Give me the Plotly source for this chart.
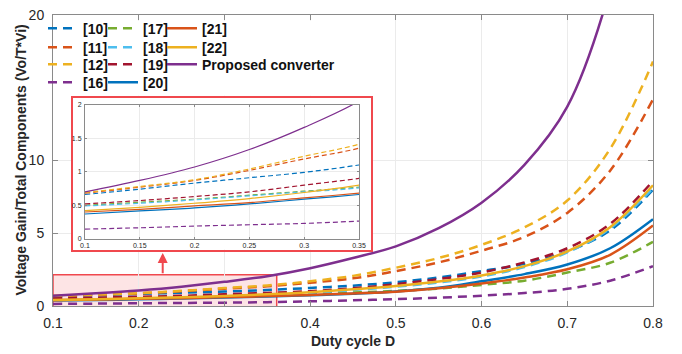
import plotly.graph_objects as go

# ---------------- data ----------------
D = [0.10, 0.15, 0.20, 0.25, 0.30, 0.35, 0.40, 0.45, 0.50, 0.55, 0.60, 0.65, 0.70, 0.75, 0.80]

ref10 = [0.66, 0.74, 0.83, 0.91, 0.99, 1.10, 1.24, 1.40, 1.63, 1.96, 2.40, 2.90, 3.75, 5.20, 8.00]
ref11 = [0.68, 0.77, 0.87, 1.02, 1.19, 1.35, 1.60, 1.90, 2.40, 3.00, 3.80, 4.75, 6.40, 9.30, 14.20]
ref12 = [0.69, 0.78, 0.88, 1.04, 1.23, 1.41, 1.70, 2.07, 2.63, 3.30, 4.20, 5.40, 7.25, 10.80, 16.80]
ref16 = [0.145, 0.165, 0.19, 0.21, 0.23, 0.265, 0.32, 0.39, 0.47, 0.57, 0.71, 0.89, 1.18, 1.74, 2.74]
ref17 = [0.50, 0.545, 0.59, 0.65, 0.71, 0.77, 0.85, 0.93, 1.04, 1.20, 1.45, 1.74, 2.30, 2.97, 4.41]
ref18 = [0.49, 0.53, 0.58, 0.64, 0.70, 0.76, 0.90, 1.10, 1.33, 1.62, 2.03, 2.68, 3.68, 5.33, 8.10]
ref19 = [0.52, 0.57, 0.63, 0.70, 0.80, 0.90, 1.02, 1.22, 1.50, 1.85, 2.30, 3.00, 3.97, 5.64, 8.60]
ref20 = [0.37, 0.415, 0.46, 0.52, 0.59, 0.66, 0.74, 0.85, 1.00, 1.25, 1.70, 2.19, 2.85, 3.97, 5.97]
ref21 = [0.40, 0.44, 0.49, 0.54, 0.61, 0.68, 0.76, 0.86, 0.98, 1.22, 1.55, 1.96, 2.52, 3.52, 5.53]
ref22 = [0.42, 0.47, 0.53, 0.60, 0.69, 0.80, 0.95, 1.15, 1.38, 1.68, 2.10, 2.74, 3.75, 5.42, 8.30]
proposed = [0.70, 0.87, 1.07, 1.33, 1.66, 2.05, 2.60, 3.30, 4.10, 5.35, 7.10, 9.70, 13.70, 21.80, 36.0]

names = ["[10]", "[11]", "[12]", "[16]", "[17]", "[18]", "[19]", "[20]", "[21]", "[22]", "Proposed converter"]
values = [ref10, ref11, ref12, ref16, ref17, ref18, ref19, ref20, ref21, ref22, proposed]
colors = ["#0072BD", "#D95319", "#EDB120", "#7E2F8E", "#77AC30", "#4DBEEE", "#A2142F",
          "#0072BD", "#D95319", "#EDB120", "#7E2F8E"]
styles = ["dash"] * 7 + ["solid"] * 4

x_ticks = [0.1, 0.2, 0.3, 0.4, 0.5, 0.6, 0.7, 0.8]
x_ticktext = ["0.1", "0.2", "0.3", "0.4", "0.5", "0.6", "0.7", "0.8"]
y_ticks = [0, 5, 10, 20]
y_ticktext = ["0", "5", "10", "20"]
ix_ticks = [0.1, 0.15, 0.2, 0.25, 0.3, 0.35]
ix_ticktext = ["0.1", "0.15", "0.2", "0.25", "0.3", "0.35"]
iy_ticks = [0, 0.5, 1, 1.5, 2]
iy_ticktext = ["0", "0.5", "1", "1.5", "2"]

FONT = "Arial, Liberation Sans, sans-serif"
RED = "#F0484E"
AX = "#8a8a8a"
GRID = "#ebebeb"

# legend layout: 3 columns (left px), 4 rows (anchor px)
leg_col_px = [43, 103, 162]
leg_row_px = [21, 40.5, 58, 76.5]
leg_cells = [(0, 0), (0, 1), (0, 2), (0, 3), (1, 0), (1, 1), (1, 2), (1, 3), (2, 0), (2, 1), (2, 2)]

fig = go.Figure()

# main traces, one legend per entry
for i, (n, v, c, s) in enumerate(zip(names, values, colors, styles)):
    lg = "legend" if i == 0 else "legend%d" % (i + 1)
    fig.add_trace(go.Scatter(
        x=D, y=v, mode="lines", name="<b>%s</b>" % n,
        line=dict(color=c, width=2.5, dash=("9px,6px" if s == "dash" else "solid"), shape="spline"),
        legend=lg, xaxis="x", yaxis="y", hoverinfo="skip"))

# empty frame subplot (white box with red border behind the inset)
fig.add_trace(go.Scatter(x=[None], y=[None], mode="lines", showlegend=False,
                         xaxis="x2", yaxis="y2", hoverinfo="skip"))

# inset traces
for n, v, c, s in zip(names, values, colors, styles):
    fig.add_trace(go.Scatter(
        x=D, y=v, mode="lines", showlegend=False,
        line=dict(color=c, width=1.2, dash=("5px,3px" if s == "dash" else "solid"), shape="spline"),
        xaxis="x3", yaxis="y3", hoverinfo="skip"))

axis_common = dict(showline=True, linecolor=AX, linewidth=1, mirror="ticks",
                   ticks="inside", tickcolor=AX, showgrid=True, gridcolor=GRID,
                   zeroline=False)
frame_axis = dict(showline=True, linecolor=RED, linewidth=2, mirror=True, ticks="",
                  showgrid=False, zeroline=False, showticklabels=False, range=[0, 1],
                  fixedrange=True)

fig.update_layout(
    width=682, height=354,
    margin=dict(l=53, r=29, t=7, b=48),
    paper_bgcolor="white", plot_bgcolor="white",
    font=dict(family=FONT, size=14, color="#262626"),
    xaxis=dict(domain=[0, 1], range=[0.1, 0.8], tickvals=x_ticks, ticktext=x_ticktext,
               ticklen=5, ticklabelstandoff=4,
               title=dict(text="<b>Duty cycle D</b>", standoff=6, font=dict(size=14, color="#262626")),
               **axis_common),
    yaxis=dict(domain=[0, 1], range=[0, 20], tickvals=y_ticks, ticktext=y_ticktext,
               ticklen=5, ticklabelstandoff=5, **axis_common),
    xaxis2=dict(domain=[0.0333, 0.53], anchor="y2", **frame_axis),
    yaxis2=dict(domain=[0.194, 0.7157], anchor="x2", **frame_axis),
    xaxis3=dict(domain=[0.0533, 0.51], anchor="y3", range=[0.1, 0.35],
                tickvals=ix_ticks, ticktext=ix_ticktext, ticklen=2,
                tickfont=dict(size=7), ticklabelstandoff=0, **axis_common),
    yaxis3=dict(domain=[0.2308, 0.6923], anchor="x3", range=[0, 2],
                tickvals=iy_ticks, ticktext=iy_ticktext, ticklen=2,
                tickfont=dict(size=7), ticklabelstandoff=1, **axis_common),
    showlegend=True,
)

# y-axis title as rotated text
fig.add_annotation(text="<b>Voltage Gain/Total Components (Vo/T*Vi)</b>", xref="paper", yref="paper",
                   x=-0.055, y=0.5, xanchor="center", yanchor="middle", textangle=-90,
                   showarrow=False, font=dict(size=14, color="#262626", family=FONT))

leg_common = dict(xref="paper", yref="paper", xanchor="left", yanchor="middle",
                  bgcolor="rgba(0,0,0,0)", borderwidth=0, itemwidth=30, tracegroupgap=0,
                  font=dict(family=FONT, size=14, color="#111111"),
                  orientation="v", traceorder="normal")
leg_layout = {}
for i, (ci, ri) in enumerate(leg_cells):
    key = "legend" if i == 0 else "legend%d" % (i + 1)
    leg_layout[key] = dict(x=(leg_col_px[ci] - 53) / 600, y=(306 - leg_row_px[ri]) / 299, **leg_common)
fig.update_layout(**leg_layout)

# white patch behind the legend (hides grid lines there)
fig.add_shape(type="rect", xref="paper", yref="paper",
              x0=(54 - 53) / 600, x1=(345 - 53) / 600,
              y0=(306 - 90) / 299, y1=(306 - 13) / 299,
              layer="above", fillcolor="white", line=dict(width=0))

# highlighted zoom region and arrow
fig.add_shape(type="rect", xref="x", yref="y",
              x0=0.1, x1=0.361, y0=-0.05, y1=2.14, layer="below",
              fillcolor="rgba(240,72,78,0.15)", line=dict(color=RED, width=1.5))
fig.add_annotation(x=0.228, y=3.65, xref="x", yref="y", ax=0.228, ay=2.14,
                   axref="x", ayref="y", showarrow=True, arrowhead=2, arrowsize=1,
                   arrowwidth=2, arrowcolor=RED, text="", standoff=0)

fig.write_html("out.html")
